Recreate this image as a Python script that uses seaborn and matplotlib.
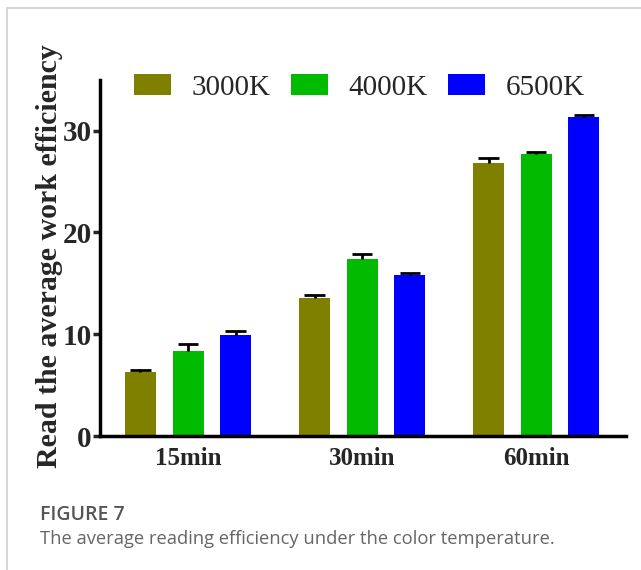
import numpy as np
import pandas as pd
import matplotlib
matplotlib.use("Agg")
import matplotlib.pyplot as plt
import seaborn as sns
from matplotlib.lines import Line2D
from matplotlib.patches import Patch

sns.set_theme(style="white")
plt.rcParams['font.family'] = ['Liberation Serif', 'DejaVu Serif']

times = ["15min", "30min", "60min"]
temps = ["3000K", "4000K", "6500K"]
means_3000 = [6.3, 13.6, 26.8]
means_4000 = [8.4, 17.4, 27.7]
means_6500 = [9.9, 15.8, 31.3]
err_3000 = [0.2, 0.25, 0.55]
err_4000 = [0.6, 0.5, 0.2]
err_6500 = [0.45, 0.2, 0.2]
colors = ["#808000", "#00BB00", "#0000FF"]

df = pd.DataFrame({
    "time": times * 3,
    "temp": [t for t in temps for _ in times],
    "value": means_3000 + means_4000 + means_6500,
    "err": err_3000 + err_4000 + err_6500,
})

fig = plt.figure(figsize=(6.41, 5.70), dpi=100)
ax = fig.add_axes([0.156, 0.235, 0.821, 0.625])

sns.barplot(data=df, x="time", y="value", hue="temp", order=times, hue_order=temps,
            palette=colors, saturation=1, width=0.82, gap=0.35, errorbar=None, ax=ax,
            edgecolor="none", legend=False)

# error bars (upper only)
bars = sorted([p for p in ax.patches if p.get_height() > 0], key=lambda p: p.get_x())
keys = [(ti, hi) for ti in range(3) for hi in range(3)]
means = (means_3000, means_4000, means_6500)
errs = (err_3000, err_4000, err_6500)
for p, (ti, hi) in zip(bars, keys):
    v = means[hi][ti]
    e = errs[hi][ti]
    xc = p.get_x() + p.get_width() / 2
    hw = p.get_width() * 0.33
    ax.vlines(xc, v, v + e, colors="black", lw=2)
    ax.hlines(v + e, xc - hw, xc + hw, colors="black", lw=2)

ax.set_xlim(-0.506, 2.517)
ax.set_ylim(0, 35)
ax.set_yticks([0, 10, 20, 30])
ax.set_yticklabels(["0", "10", "20", "30"], fontsize=21, fontweight="bold")
ax.set_xticks(range(3))
ax.set_xticklabels(times, fontsize=18, fontweight="bold")
ax.set_xlabel("")
ax.set_ylabel("Read the average work efficiency", fontsize=21.5, fontweight="bold")
ax.yaxis.set_label_coords(-0.071, 0.505)

for s in ["top", "right"]:
    ax.spines[s].set_visible(False)
for s in ["left", "bottom"]:
    ax.spines[s].set_linewidth(2.5)
    ax.spines[s].set_color("black")
ax.tick_params(axis="y", which="major", direction="out", length=5, width=2.5, pad=1, left=True)
ax.tick_params(axis="x", length=0, pad=8)

handles = [Patch(facecolor=c, edgecolor="none") for c in colors]
ax.legend(handles, temps, loc="center left", bbox_to_anchor=(0.065, 0.978), ncol=3,
          frameon=False, fontsize=21, handlelength=1.27, handleheight=0.7,
          columnspacing=0.7, handletextpad=0.7, borderaxespad=0, borderpad=0)

# frame and caption
fig.add_artist(Line2D([7/641, 7/641], [0, 1 - 8/570], color="#d0d0d0", lw=1.2))
fig.add_artist(Line2D([7/641, 1], [1 - 8/570, 1 - 8/570], color="#d0d0d0", lw=1.2))
fig.text(40/641, 1 - 515/570, "FIGURE 7", fontsize=14, fontweight="semibold",
         color="#555555", family=["Open Sans", "DejaVu Sans"], va="center")
fig.text(40/641, 1 - 539/570, "The average reading efficiency under the color temperature.",
         fontsize=13.2, color="#666666", family=["Open Sans", "DejaVu Sans"], va="center")

fig.savefig("out.png", dpi=100)
